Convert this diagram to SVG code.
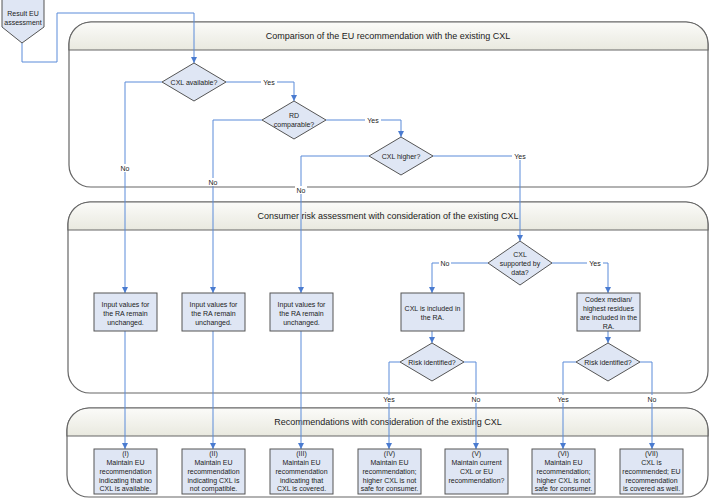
<svg xmlns="http://www.w3.org/2000/svg" width="709" height="500" viewBox="0 0 709 500">
<style>
text{font-family:"Liberation Sans",Arial,sans-serif;fill:#222;text-anchor:middle}
.nt{font-size:7px}
.ht{font-size:9px}
.lane{fill:#fff;stroke:#666;stroke-width:1.2}
.hdr{fill:url(#hg);stroke:#666;stroke-width:1.2}
.node{fill:#dfe6f4;stroke:#555;stroke-width:1}
.con{fill:none;stroke:#5b8bd9;stroke-width:1}
.arr{marker-end:url(#ah)}
.lb{fill:#fff}
</style>
<defs>
<linearGradient id="hg" x1="0" y1="0" x2="0" y2="1">
<stop offset="0" stop-color="#fbfbf9"/>
<stop offset="1" stop-color="#e9e9df"/>
</linearGradient>
<marker id="ah" viewBox="0 0 6 6" refX="6" refY="3" markerWidth="6" markerHeight="6" markerUnits="userSpaceOnUse" orient="auto">
<path d="M0,0 L6,3 L0,6 z" fill="#4a7bd0"/>
</marker>
</defs>

<g id="lane1">
<rect class="lane" x="69" y="22" width="639" height="165" rx="22" ry="22"/>
<path class="hdr" d="M69,50 L69,44 A22,22 0 0 1 91,22 L686,22 A22,22 0 0 1 708,44 L708,50 Z"/>
<text class="ht" x="388" y="39">Comparison of the EU recommendation with the existing CXL</text>
</g>
<g id="lane2">
<rect class="lane" x="68" y="202" width="640" height="191" rx="22" ry="22"/>
<path class="hdr" d="M68,230 L68,224 A22,22 0 0 1 90,202 L686,202 A22,22 0 0 1 708,224 L708,230 Z"/>
<text class="ht" x="388" y="219">Consumer risk assessment with consideration of the existing CXL</text>
</g>
<g id="lane3">
<rect class="lane" x="67" y="408" width="641" height="89" rx="22" ry="22"/>
<path class="hdr" d="M67,436 L67,430 A22,22 0 0 1 89,408 L686,408 A22,22 0 0 1 708,430 L708,436 Z"/>
<text class="ht" x="388" y="425">Recommendations with consideration of the existing CXL</text>
</g>

<g id="connectors">
<path class="con arr" d="M22,43 L22,62 L57,62 L57,13 L194,13 L194,63"/>
<path class="con arr" d="M226,82 L294,82 L294,101"/>
<path class="con arr" d="M162,82 L125,82 L125,293"/>
<path class="con arr" d="M125,331 L125,449"/>
<path class="con arr" d="M326,120 L401,120 L401,137"/>
<path class="con arr" d="M262,120 L213,120 L213,293"/>
<path class="con arr" d="M213,331 L213,449"/>
<path class="con arr" d="M433,156 L520,156 L520,241"/>
<path class="con arr" d="M369,156 L301,156 L301,293"/>
<path class="con arr" d="M301,331 L301,449"/>
<path class="con arr" d="M488,263 L432,263 L432,293"/>
<path class="con arr" d="M552,263 L608,263 L608,293"/>
<path class="con arr" d="M432,331 L432,343"/>
<path class="con arr" d="M608,331 L608,343"/>
<path class="con arr" d="M400,362 L389,362 L389,449"/>
<path class="con arr" d="M464,362 L476,362 L476,449"/>
<path class="con arr" d="M576,362 L563,362 L563,449"/>
<path class="con arr" d="M640,362 L652,362 L652,449"/>
<g id="labels">
<rect class="lb" x="261" y="78" width="16" height="8"/><text class="nt" x="269" y="84.5">Yes</text>
<rect class="lb" x="119" y="164" width="12" height="8"/><text class="nt" x="125" y="170.5">No</text>
<rect class="lb" x="365" y="116" width="16" height="8"/><text class="nt" x="373" y="122.5">Yes</text>
<rect class="lb" x="207" y="178" width="12" height="8"/><text class="nt" x="213" y="184.5">No</text>
<rect class="lb" x="512" y="152" width="16" height="8"/><text class="nt" x="520" y="158.5">Yes</text>
<rect class="lb" x="295" y="186" width="12" height="8"/><text class="nt" x="301" y="192.5">No</text>
<rect class="lb" x="439" y="259" width="12" height="8"/><text class="nt" x="445" y="265.5">No</text>
<rect class="lb" x="587" y="259" width="16" height="8"/><text class="nt" x="595" y="265.5">Yes</text>
<rect class="lb" x="381" y="395" width="16" height="8"/><text class="nt" x="389" y="401.5">Yes</text>
<rect class="lb" x="470" y="395" width="12" height="8"/><text class="nt" x="476" y="401.5">No</text>
<rect class="lb" x="555" y="395" width="16" height="8"/><text class="nt" x="563" y="401.5">Yes</text>
<rect class="lb" x="646" y="395" width="12" height="8"/><text class="nt" x="652" y="401.5">No</text>
</g>
</g>

<g id="start">
<path class="node" d="M2,-1 L44,-1 L44,27 L22,43 L2,27 Z"/>
<text class="nt" x="23" y="15.5">Result EU</text>
<text class="nt" x="23" y="24.5">assessment</text>
</g>
<g id="d_cxl_available">
<path class="node" d="M194,63 L226,82 L194,101 L162,82 Z"/>
<text class="nt" x="194" y="84.5">CXL available?</text>
</g>
<g id="d_rd_comparable">
<path class="node" d="M294,101 L326,120 L294,139 L262,120 Z"/>
<text class="nt" x="294" y="118">RD</text>
<text class="nt" x="294" y="127">comparable?</text>
</g>
<g id="d_cxl_higher">
<path class="node" d="M401,137 L433,156 L401,175 L369,156 Z"/>
<text class="nt" x="401" y="158.5">CXL higher?</text>
</g>
<g id="d_supported">
<path class="node" d="M520,241 L552,263 L520,285 L488,263 Z"/>
<text class="nt" x="520" y="256.5">CXL</text>
<text class="nt" x="520" y="265.5">supported by</text>
<text class="nt" x="520" y="274.5">data?</text>
</g>
<g id="input1">
<rect class="node" x="94" y="293" width="63" height="38"/>
<text class="nt" x="125.5" y="306.5">Input values for</text>
<text class="nt" x="125.5" y="315.5">the RA remain</text>
<text class="nt" x="125.5" y="324.5">unchanged.</text>
</g>
<g id="input2">
<rect class="node" x="182" y="293" width="63" height="38"/>
<text class="nt" x="213.5" y="306.5">Input values for</text>
<text class="nt" x="213.5" y="315.5">the RA remain</text>
<text class="nt" x="213.5" y="324.5">unchanged.</text>
</g>
<g id="input3">
<rect class="node" x="270" y="293" width="63" height="38"/>
<text class="nt" x="301.5" y="306.5">Input values for</text>
<text class="nt" x="301.5" y="315.5">the RA remain</text>
<text class="nt" x="301.5" y="324.5">unchanged.</text>
</g>
<g id="cxl_included">
<rect class="node" x="401" y="293" width="63" height="38"/>
<text class="nt" x="432.5" y="310.5">CXL is included in</text>
<text class="nt" x="432.5" y="319.5">the RA.</text>
</g>
<g id="codex">
<rect class="node" x="577" y="293" width="63" height="38"/>
<text class="nt" x="608.5" y="301.5">Codex median/</text>
<text class="nt" x="608.5" y="310.5">highest residues</text>
<text class="nt" x="608.5" y="319.5">are included in the</text>
<text class="nt" x="608.5" y="328.5">RA.</text>
</g>
<g id="d_risk1">
<path class="node" d="M432,343 L464,362 L432,381 L400,362 Z"/>
<text class="nt" x="432" y="364.5">Risk identified?</text>
</g>
<g id="d_risk2">
<path class="node" d="M608,343 L640,362 L608,381 L576,362 Z"/>
<text class="nt" x="608" y="364.5">Risk identified?</text>
</g>
<g id="rec1">
<rect class="node" x="94" y="449" width="63" height="45"/>
<text class="nt" x="125.5" y="455.5">(I)</text>
<text class="nt" x="125.5" y="464.5">Maintain EU</text>
<text class="nt" x="125.5" y="473.5">recommendation</text>
<text class="nt" x="125.5" y="482.5">indicating that no</text>
<text class="nt" x="125.5" y="491">CXL is available.</text>
</g>
<g id="rec2">
<rect class="node" x="182" y="449" width="63" height="45"/>
<text class="nt" x="213.5" y="455.5">(II)</text>
<text class="nt" x="213.5" y="464.5">Maintain EU</text>
<text class="nt" x="213.5" y="473.5">recommendation</text>
<text class="nt" x="213.5" y="482.5">indicating CXL is</text>
<text class="nt" x="213.5" y="491">not compatible.</text>
</g>
<g id="rec3">
<rect class="node" x="270" y="449" width="63" height="45"/>
<text class="nt" x="301.5" y="455.5">(III)</text>
<text class="nt" x="301.5" y="464.5">Maintain EU</text>
<text class="nt" x="301.5" y="473.5">recommendation</text>
<text class="nt" x="301.5" y="482.5">indicating that</text>
<text class="nt" x="301.5" y="491">CXL is covered.</text>
</g>
<g id="rec4">
<rect class="node" x="358" y="449" width="63" height="45"/>
<text class="nt" x="389.5" y="455.5">(IV)</text>
<text class="nt" x="389.5" y="464.5">Maintain EU</text>
<text class="nt" x="389.5" y="473.5">recommendation;</text>
<text class="nt" x="389.5" y="482.5">higher CXL is not</text>
<text class="nt" x="389.5" y="491">safe for consumer.</text>
</g>
<g id="rec5">
<rect class="node" x="445" y="449" width="63" height="45"/>
<text class="nt" x="476.5" y="455.5">(V)</text>
<text class="nt" x="476.5" y="464.5">Maintain current</text>
<text class="nt" x="476.5" y="473.5">CXL or EU</text>
<text class="nt" x="476.5" y="482.5">recommendation?</text>
</g>
<g id="rec6">
<rect class="node" x="532" y="449" width="63" height="45"/>
<text class="nt" x="563.5" y="455.5">(VI)</text>
<text class="nt" x="563.5" y="464.5">Maintain EU</text>
<text class="nt" x="563.5" y="473.5">recommendation;</text>
<text class="nt" x="563.5" y="482.5">higher CXL is not</text>
<text class="nt" x="563.5" y="491">safe for consumer.</text>
</g>
<g id="rec7">
<rect class="node" x="620" y="449" width="63" height="45"/>
<text class="nt" x="651.5" y="455.5">(VII)</text>
<text class="nt" x="651.5" y="464.5">CXL is</text>
<text class="nt" x="651.5" y="473.5">recommended; EU</text>
<text class="nt" x="651.5" y="482.5">recommendation</text>
<text class="nt" x="651.5" y="491">is covered as well.</text>
</g>
</svg>
